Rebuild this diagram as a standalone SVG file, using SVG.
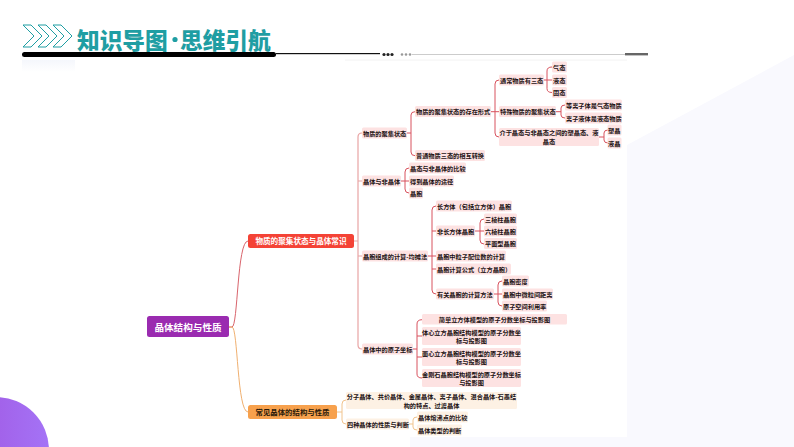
<svg xmlns="http://www.w3.org/2000/svg" width="794" height="447" viewBox="0 0 794 447">
<style>
text{font-family:"Noto Sans CJK SC","Liberation Sans",sans-serif;font-size:6.2px;font-weight:700;fill:#1c1214;text-anchor:start;dominant-baseline:central}
.c{text-anchor:middle}
.h{font-size:22.700px;font-weight:900;fill:#1f9ea3}
.p{fill:#fde2e2}
.o{fill:#fdf1e4}
.r{fill:none;stroke:#d8525e;stroke-width:1}
.t{fill:none;stroke:#e8a4a4;stroke-width:1.200}
.y{fill:none;stroke:#f1c48e;stroke-width:1}
</style>
<defs>
<linearGradient id="pg" x1="0" x2="1" y1="0" y2="0"><stop offset="0" stop-color="#a050dc"/><stop offset="1" stop-color="#a473f6"/></linearGradient>
<linearGradient id="lg" x1="0" x2="0" y1="0" y2="1"><stop offset="0" stop-color="#f5f7fc"/><stop offset="1" stop-color="#fff"/></linearGradient>
<polygon id="chev" points="0,0 8,0 19,11 8,22 0,22 11,11" fill="none" stroke="#1f9ea3" stroke-width="1"/>
</defs>
<rect width="794" height="447" fill="#fff"/>
<path d="M627 145L794 55V447H410V437H627Z" fill="#f9f9fe"/>
<rect x="22" y="60" width="53" height="12" fill="url(#lg)"/>
<rect x="345" y="59.500" width="282" height="1.200" fill="#f6f6f6"/>
<circle cx="-4" cy="450" r="53" fill="url(#pg)"/>

<g id="title">
<use href="#chev" x="23" y="25"/><use href="#chev" x="38" y="25"/><use href="#chev" x="53" y="25"/>
<text x="77" y="39" class="h">知识导图</text>
<circle cx="175" cy="39.500" r="2.600" fill="#1f9ea3"/>
<text x="180" y="39" class="h">思维引航</text>
<rect x="22" y="52" width="254" height="5" rx="2.500" fill="#000"/>
<rect x="276" y="53" width="104" height="1.200" fill="#111"/>
<g fill="#222"><circle cx="384" cy="54.500" r="1.600"/><circle cx="388" cy="54.500" r="1.600"/><circle cx="392" cy="54.500" r="1.600"/></g>
<g fill="#999"><circle cx="402" cy="54.500" r="1.300"/><circle cx="406" cy="54.500" r="1.300"/><circle cx="410" cy="54.500" r="1.300"/></g>
<rect x="412" y="54" width="213" height="1" fill="#ccc"/>
<rect x="625" y="53" width="23" height="2.400" fill="#666"/>
</g>

<g id="connectors">
<path d="M229 327H232C238 327 237 241 248 241" fill="none" stroke="#d9646c" stroke-width="1"/>
<path d="M229 327H232C238 327 237 412 248 412" fill="none" stroke="#f0b070" stroke-width="1"/>
<path class="t" d="M354 241H358M362 133Q358 133 358 137V345Q358 349 362 349M358 181H362M358 256H362"/>
<path class="r" d="M406 133H411M415 111.700Q411 111.700 411 115V152Q411 155.700 415 155.700"/>
<path class="r" d="M490 111.700H499M499 80Q495 80 495 84V133Q495 137 499 137"/>
<path class="r" d="M543 80H552M552 67Q547 67 547 71V88.500Q547 92.500 552 92.500"/>
<path class="r" d="M555 111.700H561M565 105Q561 105 561 108V115Q561 118 565 118"/>
<path class="r" d="M599 137H604M608 130Q604 130 604 133V140Q604 143 608 143"/>
<path class="r" d="M400 181H409M409 168Q405 168 405 172V189Q405 193 409 193"/>
<path class="r" d="M427 256H436M436 206Q432 206 432 210V290Q432 294 436 294M432 231H436M432 269H436"/>
<path class="r" d="M474 231H484M484 219Q480 219 480 223V240Q480 244 484 244"/>
<path class="r" d="M493 294H502M502 281Q498 281 498 285V302Q498 306 502 306"/>
<path class="r" d="M412 349H417M422 319.700Q417 319.700 417 324V374Q417 378 422 378M417 336H422M417 357H422"/>
<path class="y" d="M337 412H342M346 400Q342 400 342 404V420Q342 424 346 424"/>
<path class="y" d="M408 424H413M417 417Q413 417 413 420V427Q413 430 417 430"/>
</g>

<g id="root"><rect x="147" y="316" width="82" height="21" rx="2.500" fill="#9a2bb0"/><text x="188" y="326.500" class="c" style="font-size:9.600px;fill:#fff">晶体结构与性质</text></g>
<g id="n-a"><rect x="248" y="234" width="106" height="14" rx="2.500" fill="#f44336"/><text x="301" y="240.500" class="c" style="font-size:7.600px;fill:#fff">物质的聚集状态与晶体常识</text></g>
<g id="n-b"><rect x="248" y="405" width="89" height="14" rx="2.500" fill="#f7a14d"/><text x="292.500" y="411.500" class="c" style="font-size:7.400px;fill:#2a1a0a">常见晶体的结构与性质</text></g>

<g id="a1"><rect x="362" y="127.500" width="45" height="11" rx="1.500" class="p"/><text x="363" y="133">物质的聚集状态</text></g>
<g id="a11"><rect x="415" y="106" width="76" height="11" rx="1.500" class="p"/><text x="416" y="111.700">物质的聚集状态的存在形式</text></g>
<g id="a111"><rect x="499" y="74.500" width="45" height="11" rx="1.500" class="p"/><text x="500" y="80">通常物质有三态</text></g>
<g id="a1111"><rect x="552" y="61.500" width="15" height="11" rx="1.500" class="p"/><text x="553" y="67">气态</text></g>
<g id="a1112"><rect x="552" y="74.500" width="15" height="11" rx="1.500" class="p"/><text x="553" y="80">液态</text></g>
<g id="a1113"><rect x="552" y="87" width="15" height="11" rx="1.500" class="p"/><text x="553" y="92.500">固态</text></g>
<g id="a112"><rect x="499" y="106" width="57" height="11" rx="1.500" class="p"/><text x="500" y="111.700">特殊物质的聚集状态</text></g>
<g id="a1121"><rect x="565" y="99.500" width="57" height="11" rx="1.500" class="p"/><text x="566" y="105">等离子体是气态物质</text></g>
<g id="a1122"><rect x="565" y="112.500" width="57" height="11" rx="1.500" class="p"/><text x="566" y="118">离子液体是液态物质</text></g>
<g id="a113"><rect x="499" y="128" width="100" height="18" rx="1.500" class="p"/><text x="549" y="132.500" class="c">介于晶态与非晶态之间的塑晶态、液</text><text x="549" y="141" class="c">晶态</text></g>
<g id="a1131"><rect x="607.500" y="124.500" width="14" height="11" rx="1.500" class="p"/><text x="608" y="130">塑晶</text></g>
<g id="a1132"><rect x="607.500" y="137.500" width="14" height="11" rx="1.500" class="p"/><text x="608" y="143">液晶</text></g>
<g id="a12"><rect x="415" y="150" width="70" height="11" rx="1.500" class="p"/><text x="416" y="155.700">普通物质三态的相互转换</text></g>

<g id="a2"><rect x="362" y="175.500" width="39" height="11" rx="1.500" class="p"/><text x="363" y="181">晶体与非晶体</text></g>
<g id="a21"><rect x="409" y="162.500" width="57" height="11" rx="1.500" class="p"/><text x="410" y="168">晶态与非晶体的比较</text></g>
<g id="a22"><rect x="409" y="175.500" width="45" height="11" rx="1.500" class="p"/><text x="410" y="181">得到晶体的途径</text></g>
<g id="a23"><rect x="409" y="187.500" width="14" height="11" rx="1.500" class="p"/><text x="410" y="193">晶胞</text></g>

<g id="a3"><rect x="362" y="250.500" width="66" height="11" rx="1.500" class="p"/><text x="363" y="256">晶胞组成的计算-均摊法</text></g>
<g id="a31"><rect x="436" y="200.500" width="76" height="11" rx="1.500" class="p"/><text x="437" y="206">长方体（包括立方体）晶胞</text></g>
<g id="a32"><rect x="436" y="225.500" width="39" height="11" rx="1.500" class="p"/><text x="437" y="231">非长方体晶胞</text></g>
<g id="a321"><rect x="484" y="213.500" width="33" height="11" rx="1.500" class="p"/><text x="485" y="219">三棱柱晶胞</text></g>
<g id="a322"><rect x="484" y="225.500" width="33" height="11" rx="1.500" class="p"/><text x="485" y="231">六棱柱晶胞</text></g>
<g id="a323"><rect x="484" y="238" width="33" height="11" rx="1.500" class="p"/><text x="485" y="243.700">平面型晶胞</text></g>
<g id="a33"><rect x="436" y="250.500" width="70" height="11" rx="1.500" class="p"/><text x="437" y="256">晶胞中粒子配位数的计算</text></g>
<g id="a34"><rect x="436" y="263.500" width="75" height="11" rx="1.500" class="p"/><text x="437" y="269">晶胞计算公式（立方晶胞）</text></g>
<g id="a35"><rect x="436" y="288.500" width="58" height="11" rx="1.500" class="p"/><text x="437" y="294">有关晶胞的计算方法</text></g>
<g id="a351"><rect x="502" y="275.500" width="27" height="11" rx="1.500" class="p"/><text x="503" y="281">晶胞密度</text></g>
<g id="a352"><rect x="502" y="288.500" width="51" height="11" rx="1.500" class="p"/><text x="503" y="294">晶胞中微粒间距离</text></g>
<g id="a353"><rect x="502" y="300.500" width="45" height="11" rx="1.500" class="p"/><text x="503" y="306">原子空间利用率</text></g>

<g id="a4"><rect x="362" y="343.500" width="51" height="11" rx="1.500" class="p"/><text x="363" y="349">晶体中的原子坐标</text></g>
<g id="a41"><rect x="422" y="314" width="145" height="10.500" rx="1.500" class="p"/><text x="494.500" y="319.500" class="c">简单立方体模型的原子分数坐标与投影图</text></g>
<g id="a42"><rect x="422" y="327" width="99" height="18" rx="1.500" class="p"/><text x="471.500" y="332" class="c">体心立方晶胞结构模型的原子分数坐</text><text x="471.500" y="340.500" class="c">标与投影图</text></g>
<g id="a43"><rect x="422" y="348" width="99" height="18" rx="1.500" class="p"/><text x="471.500" y="353" class="c">面心立方晶胞结构模型的原子分数坐</text><text x="471.500" y="361.500" class="c">标与投影图</text></g>
<g id="a44"><rect x="422" y="369" width="99" height="18" rx="1.500" class="p"/><text x="471.500" y="374" class="c">金刚石晶胞结构模型的原子分数坐标</text><text x="471.500" y="382.500" class="c">与投影图</text></g>

<g id="b1"><rect x="346" y="392" width="171" height="17" rx="1.500" class="o"/><text x="431.500" y="396.500" class="c">分子晶体、共价晶体、金属晶体、离子晶体、混合晶体-石墨结</text><text x="431.500" y="405" class="c">构的特点、过渡晶体</text></g>
<g id="b2"><rect x="346" y="418.500" width="63" height="11" rx="1.500" class="o"/><text x="347" y="424">四种晶体的性质与判断</text></g>
<g id="b21"><rect x="417" y="411.500" width="51" height="11" rx="1.500" class="o"/><text x="418" y="417">晶体熔沸点的比较</text></g>
<g id="b22"><rect x="417" y="424.500" width="45" height="11" rx="1.500" class="o"/><text x="418" y="430">晶体类型的判断</text></g>
</svg>
